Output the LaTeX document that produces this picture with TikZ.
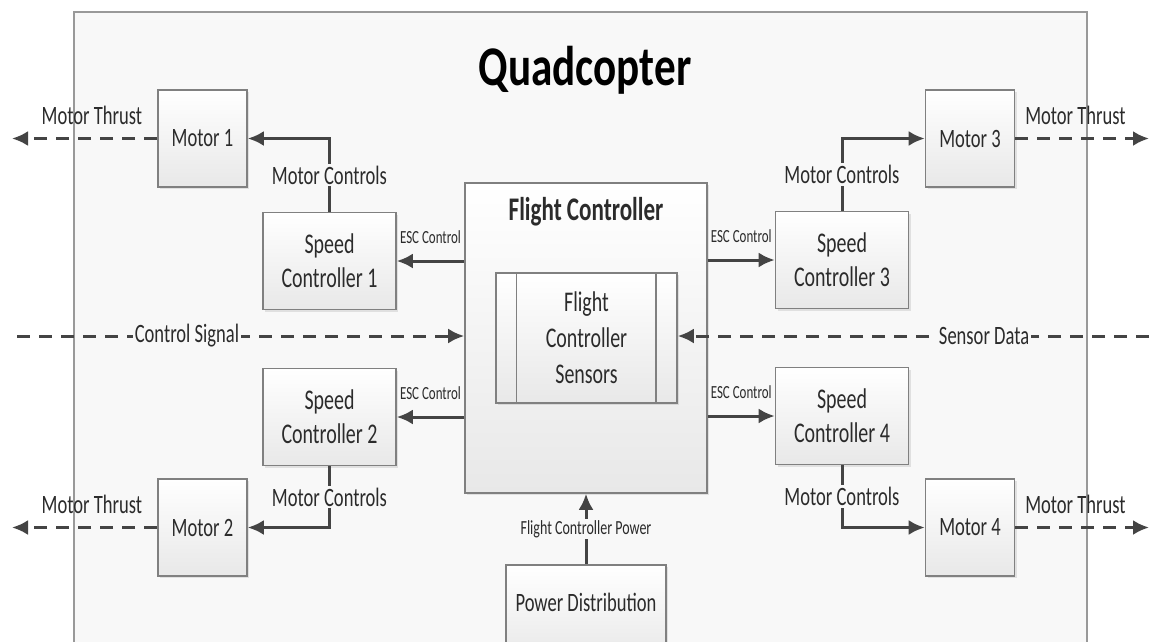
\documentclass[tikz,border=0pt]{standalone}
\usepackage{fontspec}
\setmainfont{Carlito}[FakeStretch=0.7]
\newfontfamily\titlefont{Carlito}[FakeStretch=0.77]
\usetikzlibrary{arrows.meta,shadows,positioning}
\definecolor{linegray}{HTML}{444444}
\definecolor{boxgray}{HTML}{808080}
\definecolor{panel}{HTML}{F8F8F8}
\definecolor{inkgray}{HTML}{2B2B2B}

\begin{document}
\begin{tikzpicture}[x=1pt,y=-1pt,text=inkgray,
	block/.style={draw=boxgray,line width=1.6pt,top color=white,bottom color=black!9,
		drop shadow={shadow xshift=2pt,shadow yshift=-2pt,opacity=0.2},align=center,inner sep=0pt},
	motor/.style={block,minimum width=89pt,minimum height=97pt,font=\fontsize{26.5}{30}\selectfont},
	speed/.style={block,minimum width=133pt,minimum height=97pt,font=\fontsize{28.5}{34}\selectfont},
	ctrl/.style={draw=linegray,line width=3pt,-{Latex[length=16pt,width=15pt]}},
	thrust/.style={ctrl,dash pattern=on 13pt off 9pt},
	lbl/.style={font=\fontsize{26.5}{30}\selectfont,inner sep=2pt},
	cut/.style={lbl,fill=panel},
	esc/.style={font=\fontsize{18.5}{20}\selectfont,inner sep=0pt}]
	%frame
	\useasboundingbox (0,0) rectangle (1151,641);
	\clip (0,0) rectangle (1151,641);
	\fill[white] (0,0) rectangle (1151,641);
	\draw[draw=boxgray!80,line width=1.5pt,fill=panel] (74,12) rectangle (1087,700); %outer box
	\node[font=\titlefont\bfseries\fontsize{56}{60}\selectfont,text=black,anchor=base] (title) at (585,85) {Quadcopter};

	%blocks
	\node[motor] (m1) at (202.5,138.5) {Motor 1};
	\node[motor] (m2) at (202.5,527.5) {Motor 2};
	\node[motor] (m3) at (970,138.5) {Motor 3};
	\node[motor] (m4) at (970,527.5) {Motor 4};
	\node[speed] (sc1) at (329.5,261) {Speed\\Controller 1};
	\node[speed] (sc2) at (329.5,417) {Speed\\Controller 2};
	\node[speed] (sc3) at (842,260) {Speed\\Controller 3};
	\node[speed] (sc4) at (842,416) {Speed\\Controller 4};

	%flight controller
	\node[block,minimum width=242pt,minimum height=310pt] (fc) at (586,338) {};
	\node[font=\bfseries\fontsize{33}{36}\selectfont,below=12pt of fc.north] (fctitle) {Flight Controller};
	\node[block,minimum width=181pt,minimum height=130pt,font=\fontsize{28.5}{36}\selectfont] (fcs) at (586.5,338) {Flight\\Controller\\Sensors};
	\draw[draw=boxgray,line width=1.4pt] ([xshift=21pt]fcs.north west) -- ([xshift=21pt]fcs.south west); %left bar
	\draw[draw=boxgray,line width=1.4pt] ([xshift=-22pt]fcs.north east) -- ([xshift=-22pt]fcs.south east); %right bar
	\node[block,minimum width=160pt,minimum height=94pt,
		label={[lbl,yshift=10pt]center:Power Distribution}] (pd) at (586,612) {};

	%esc controls
	\draw[ctrl] (fc.west |- sc1.east) -- node[esc,midway,above=16pt] {ESC Control} (sc1.east);
	\draw[ctrl] (fc.west |- sc2.east) -- node[esc,midway,above=16pt] {ESC Control} (sc2.east);
	\draw[ctrl] (fc.east |- sc3.west) -- node[esc,midway,above=16pt] {ESC Control} (sc3.west);
	\draw[ctrl] (fc.east |- sc4.west) -- node[esc,midway,above=16pt] {ESC Control} (sc4.west);

	%motor controls
	\draw[ctrl] (sc1.north) |- node[cut,pos=0.25] {Motor Controls} (m1.east);
	\draw[ctrl] (sc2.south) |- node[cut,pos=0.25] {Motor Controls} (m2.east);
	\draw[ctrl] (sc3.north) |- node[cut,pos=0.25] {Motor Controls} (m3.west);
	\draw[ctrl] (sc4.south) |- node[cut,pos=0.25] {Motor Controls} (m4.west);

	%motor thrust
	\coordinate (t1) at (12,138.5);
	\coordinate (t2) at (12,527.5);
	\coordinate (t3) at (1149,138.5);
	\coordinate (t4) at (1149,527.5);
	\draw[thrust] (m1.west) -- node[lbl,pos=0.45,above=10pt] {Motor Thrust} (t1);
	\draw[thrust] (m2.west) -- node[lbl,pos=0.45,above=10pt] {Motor Thrust} (t2);
	\draw[thrust] (m3.east) -- node[lbl,pos=0.45,above=10pt] {Motor Thrust} (t3);
	\draw[thrust] (m4.east) -- node[lbl,pos=0.45,above=10pt] {Motor Thrust} (t4);

	%signal and sensor lines
	\coordinate (cs) at (17,336);
	\coordinate (sd) at (1149,336);
	\draw[thrust] (cs) -- node[cut,pos=0.38] {Control Signal} (cs -| fc.west);
	\draw[thrust] (sd) -- node[cut,pos=0.35] {Sensor Data} (sd -| fcs.east);

	%power
	\draw[ctrl] (pd.north) -- node[cut,midway,font=\fontsize{20}{22}\selectfont,inner sep=1pt] {Flight Controller Power} (fc.south);
\end{tikzpicture}
\end{document}
